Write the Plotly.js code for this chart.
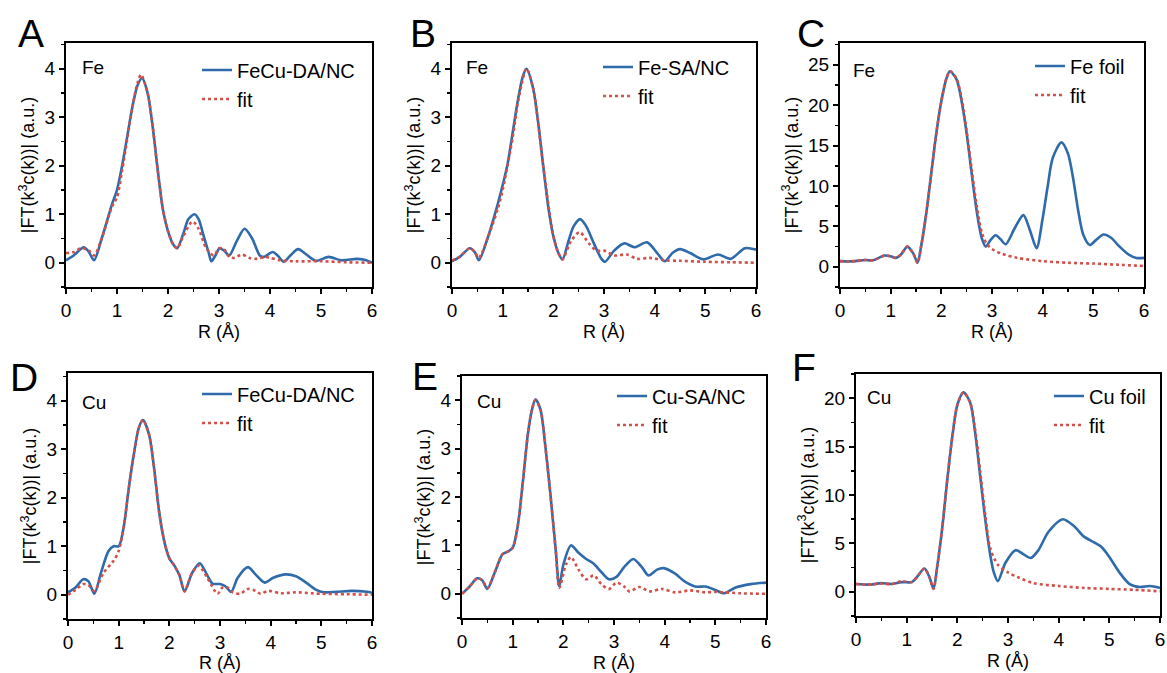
<!DOCTYPE html>
<html><head><meta charset="utf-8">
<script src="https://cdn.plot.ly/plotly-3.0.1.min.js"></script>
<style>html,body{margin:0;padding:0;background:#fff}#chart{width:1167px;height:673px}</style>
</head><body><div id="chart"></div>
<script>
// ---------- DATA ----------
// Panel A: Fe edge, FeCu-DA/NC
const rA_data = [0,0.15,0.35,0.45,0.55,0.7,0.9,1.0,1.1,1.2,1.3,1.4,1.49,1.6,1.7,1.8,1.9,2.0,2.1,2.18,2.3,2.4,2.52,2.6,2.7,2.8,2.85,2.93,3.01,3.1,3.2,3.35,3.5,3.65,3.8,3.88,4.05,4.15,4.27,4.4,4.55,4.7,4.9,5.15,5.4,5.7,5.85,6.0];
const vA_data = [0.05,0.15,0.32,0.22,0.05,0.5,1.2,1.5,2.0,2.6,3.2,3.65,3.81,3.5,2.8,1.9,1.1,0.65,0.38,0.3,0.6,0.9,1.0,0.9,0.55,0.2,0.03,0.15,0.3,0.25,0.15,0.45,0.7,0.5,0.15,0.12,0.22,0.15,0.02,0.15,0.28,0.18,0.04,0.12,0.05,0.08,0.06,0.0];
const rA_fit = [0,0.15,0.3,0.45,0.55,0.7,0.9,1.0,1.1,1.2,1.3,1.4,1.47,1.6,1.7,1.8,1.9,2.0,2.1,2.18,2.3,2.48,2.6,2.75,2.9,3.0,3.1,3.2,3.3,3.45,3.6,3.75,3.9,4.0,4.2,4.5,5.0,5.5,6.0];
const vA_fit = [0.2,0.22,0.3,0.25,0.15,0.5,1.15,1.35,1.9,2.55,3.2,3.7,3.88,3.5,2.8,1.9,1.1,0.65,0.38,0.3,0.55,0.85,0.7,0.3,0.15,0.3,0.28,0.12,0.1,0.17,0.1,0.08,0.12,0.1,0.05,0.03,0.03,0.01,0.0];

// Panel B: Fe edge, Fe-SA/NC
const rB_data = [0,0.15,0.35,0.45,0.53,0.7,0.9,1.0,1.1,1.2,1.3,1.4,1.47,1.6,1.7,1.8,1.9,2.0,2.1,2.18,2.3,2.4,2.53,2.65,2.8,2.95,3.02,3.2,3.4,3.6,3.85,4.05,4.2,4.35,4.5,4.7,4.96,5.25,5.5,5.78,6.0];
const vB_data = [0.03,0.12,0.3,0.22,0.05,0.5,1.2,1.6,2.05,2.7,3.35,3.85,4.0,3.6,2.9,2.0,1.15,0.55,0.2,0.07,0.45,0.75,0.9,0.75,0.4,0.08,0.02,0.25,0.4,0.32,0.42,0.2,0.03,0.2,0.28,0.2,0.07,0.17,0.08,0.3,0.27];
const rB_fit = [0,0.15,0.35,0.45,0.53,0.7,0.9,1.0,1.2,1.3,1.47,1.6,1.8,2.0,2.1,2.18,2.35,2.52,2.7,2.85,3.0,3.2,3.45,3.65,3.9,4.2,4.5,5.0,5.5,6.0];
const vB_fit = [0.05,0.12,0.3,0.22,0.1,0.5,1.1,1.5,2.6,3.3,4.0,3.6,2.0,0.55,0.2,0.07,0.45,0.63,0.4,0.25,0.25,0.15,0.17,0.08,0.1,0.05,0.04,0.02,0.01,0.0];

// Panel C: Fe edge, Fe foil
const rC_data = [0,0.15,0.3,0.5,0.65,0.88,1.0,1.1,1.2,1.33,1.45,1.53,1.6,1.7,1.8,1.9,2.0,2.1,2.17,2.3,2.4,2.5,2.6,2.7,2.8,2.88,2.97,3.07,3.17,3.27,3.45,3.62,3.75,3.88,4.0,4.1,4.2,4.37,4.5,4.6,4.7,4.8,4.93,5.05,5.2,5.35,5.5,5.7,5.85,6.0];
const vC_data = [0.7,0.65,0.7,0.85,0.8,1.4,1.3,1.1,1.5,2.5,1.6,0.5,2.5,6.5,11.5,16.5,20.5,23.3,24.2,23.2,20.5,16.5,11.5,6.8,3.5,2.5,3.3,3.9,3.4,2.8,4.8,6.4,4.5,2.3,6.0,10.0,13.5,15.4,14.0,11.0,7.0,4.0,2.7,3.3,4.0,3.6,2.6,1.5,1.1,1.1];
const rC_fit = [0,0.15,0.3,0.5,0.65,0.88,1.0,1.1,1.2,1.33,1.45,1.53,1.6,1.7,1.8,1.9,2.0,2.1,2.17,2.3,2.4,2.5,2.6,2.7,2.8,2.9,3.0,3.2,3.5,4.0,4.5,5.0,5.5,6.0];
const vC_fit = [0.7,0.65,0.7,0.85,0.8,1.4,1.3,1.1,1.5,2.5,1.6,0.5,2.5,6.5,11.5,16.5,20.5,23.3,24.2,23.3,20.8,16.8,12.0,7.5,4.2,2.8,2.2,1.6,1.1,0.7,0.5,0.4,0.25,0.1];

// Panel D: Cu edge, FeCu-DA/NC
const rD_data = [0,0.15,0.3,0.4,0.52,0.65,0.8,0.9,1.0,1.1,1.2,1.3,1.4,1.48,1.6,1.7,1.8,1.9,2.0,2.1,2.2,2.3,2.45,2.6,2.75,2.85,3.0,3.1,3.22,3.35,3.55,3.7,3.88,4.05,4.3,4.5,4.7,4.9,5.05,5.3,5.6,5.9,6.0];
const vD_data = [0.05,0.15,0.32,0.28,0.02,0.45,0.9,1.0,1.0,1.4,2.2,2.9,3.45,3.6,3.3,2.6,1.7,1.1,0.75,0.6,0.4,0.07,0.45,0.65,0.4,0.23,0.22,0.18,0.06,0.35,0.57,0.42,0.25,0.35,0.42,0.38,0.25,0.1,0.05,0.06,0.08,0.06,0.04];
const rD_fit = [0,0.15,0.3,0.4,0.52,0.7,0.9,1.0,1.1,1.2,1.3,1.4,1.48,1.6,1.7,1.8,1.9,2.0,2.1,2.2,2.3,2.45,2.58,2.75,2.95,3.05,3.15,3.25,3.4,3.55,3.7,3.8,3.95,4.2,4.5,4.8,5.0,5.5,6.0];
const vD_fit = [0.0,0.1,0.22,0.2,0.08,0.45,0.7,0.9,1.4,2.2,2.9,3.45,3.6,3.3,2.6,1.7,1.1,0.75,0.6,0.4,0.07,0.45,0.6,0.35,0.02,0.15,0.15,0.05,0.02,0.12,0.08,0.02,0.08,0.03,0.05,0.03,0.02,0.01,0.0];

// Panel E: Cu edge, Cu-SA/NC
const rE_data = [0,0.15,0.3,0.4,0.5,0.65,0.8,0.9,1.0,1.1,1.2,1.3,1.38,1.45,1.55,1.65,1.75,1.85,1.92,2.0,2.15,2.3,2.45,2.6,2.75,2.9,3.05,3.2,3.38,3.55,3.68,3.85,3.98,4.2,4.4,4.6,4.8,5.0,5.17,5.4,5.7,6.0];
const vE_data = [0.0,0.15,0.32,0.28,0.1,0.45,0.82,0.87,0.95,1.4,2.3,3.3,3.8,4.02,3.8,3.0,2.0,0.9,0.15,0.6,1.0,0.85,0.72,0.62,0.45,0.3,0.35,0.55,0.72,0.55,0.38,0.5,0.53,0.42,0.25,0.15,0.15,0.08,0.01,0.13,0.2,0.23];
const rE_fit = [0,0.15,0.3,0.4,0.5,0.65,0.8,0.9,1.0,1.1,1.2,1.3,1.38,1.45,1.55,1.65,1.75,1.85,1.92,2.05,2.15,2.3,2.45,2.6,2.75,2.9,3.05,3.2,3.3,3.5,3.7,3.95,4.2,4.5,4.8,5.0,5.5,6.0];
const vE_fit = [0.0,0.15,0.32,0.28,0.12,0.45,0.82,0.87,0.95,1.4,2.3,3.3,3.8,4.0,3.8,3.0,2.0,0.9,0.12,0.6,0.76,0.5,0.3,0.38,0.2,0.1,0.23,0.15,0.05,0.14,0.05,0.1,0.03,0.07,0.03,0.04,0.01,0.0];

// Panel F: Cu edge, Cu foil
const rF_data = [0,0.15,0.3,0.5,0.7,0.9,1.1,1.2,1.35,1.45,1.53,1.6,1.7,1.8,1.9,2.0,2.12,2.25,2.35,2.45,2.55,2.65,2.72,2.8,2.95,3.15,3.3,3.45,3.6,3.8,4.08,4.3,4.5,4.7,4.85,5.0,5.2,5.4,5.6,5.8,6.0];
const vF_data = [0.8,0.75,0.75,0.9,0.8,1.0,1.0,1.5,2.4,1.5,0.3,2.5,6.5,11.5,16.0,19.3,20.6,19.6,16.5,12.0,7.5,3.8,2.0,1.1,3.0,4.3,3.9,3.5,4.3,6.2,7.5,6.8,5.7,5.1,4.6,3.6,2.0,0.8,0.5,0.6,0.4];
const rF_fit = [0,0.15,0.3,0.5,0.7,0.9,1.1,1.2,1.35,1.45,1.53,1.6,1.7,1.8,1.9,2.0,2.12,2.25,2.35,2.45,2.55,2.65,2.8,3.0,3.2,3.5,4.0,4.5,5.0,5.5,6.0];
const vF_fit = [0.8,0.75,0.75,0.85,0.8,1.1,1.0,1.5,2.4,1.5,0.3,2.5,6.5,11.5,16.0,19.3,20.6,19.6,16.8,12.5,8.0,4.5,2.8,2.0,1.5,0.9,0.6,0.4,0.3,0.2,0.05];

const panelLetters = ['A','B','C','D','E','F'];
const edgeLabels = ['Fe','Fe','Fe','Cu','Cu','Cu'];
const sampleNames = ['FeCu-DA/NC','Fe-SA/NC','Fe foil','FeCu-DA/NC','Cu-SA/NC','Cu foil'];
const fitName = 'fit';
const xTitle = 'R (Å)';
const yTitle = '|FT(k<sup>3</sup>c(k))| (a.u.)';
const seriesR = [rA_data,rB_data,rC_data,rD_data,rE_data,rF_data];
const seriesV = [vA_data,vB_data,vC_data,vD_data,vE_data,vF_data];
const fitR = [rA_fit,rB_fit,rC_fit,rD_fit,rE_fit,rF_fit];
const fitV = [vA_fit,vB_fit,vC_fit,vD_fit,vE_fit,vF_fit];

// ---------- LAYOUT / STYLE ----------
const W = 1167, H = 673;
const BLUE = '#2f6aab', RED = '#d2504a';
const FONT = 'Arial, "Liberation Sans", sans-serif';
const px = x => x / W, py = y => 1 - y / H;

// plot box [left, top, right, bottom] in px, y range, y tick step, y minor step
const boxes = [
  {b:[66,43,372,287],   yr:[-0.5,4.53], dt:1, mn:0.5, let:[16,33],  el:[80,68],   lg:[237,63]},
  {b:[452,43,756,287],  yr:[-0.5,4.53], dt:1, mn:0.5, let:[408,33], el:[464,68],  lg:[638,60]},
  {b:[840,43,1144,287], yr:[-2.5,27.7], dt:5, mn:2.5, let:[795,33], el:[851,71],  lg:[1070,59]},
  {b:[68,373,372,619],  yr:[-0.5,4.57], dt:1, mn:0.5, let:[8,377],  el:[80,402],  lg:[237,387]},
  {b:[462,376,766,618], yr:[-0.5,4.5],  dt:1, mn:0.5, let:[410,376],el:[475,401], lg:[652,389]},
  {b:[856,374,1160,616],yr:[-2.5,22.5], dt:5, mn:2.5, let:[790,368],el:[865,397], lg:[1089,389]}
];

const traces = [];
const layout = {
  width: W, height: H, margin:{l:0,r:0,t:0,b:0},
  paper_bgcolor:'#fff', plot_bgcolor:'#fff',
  font:{family:FONT, color:'#000', size:18},
  annotations: [], showlegend: true
};

boxes.forEach((bx, i) => {
  const n = i + 1;
  const xa = n === 1 ? 'xaxis' : 'xaxis' + n;
  const ya = n === 1 ? 'yaxis' : 'yaxis' + n;
  const xr = n === 1 ? 'x' : 'x' + n;
  const yrf = n === 1 ? 'y' : 'y' + n;
  const lgName = n === 1 ? 'legend' : 'legend' + n;
  const [l, t, r, b] = bx.b;
  const common = {
    ticks:'outside', ticklen:5, tickwidth:2, tickcolor:'#000',
    showline:true, linewidth:2, linecolor:'#000', mirror:true,
    showgrid:false, zeroline:false,
    tickfont:{size:19, family:FONT, color:'#000'}
  };
  layout[xa] = Object.assign({}, common, {
    domain:[px(l), px(r)], range:[0,6], anchor:yrf, tick0:0, dtick:1,
    minor:{dtick:0.5, ticks:'outside', ticklen:3, tickwidth:1.5, tickcolor:'#000'},
    title:{text:xTitle, font:{size:18, family:FONT, color:'#000'}, standoff:6}
  });
  layout[ya] = Object.assign({}, common, {
    domain:[py(b), py(t)], range:bx.yr, anchor:xr, tick0:0, dtick:bx.dt,
    minor:{dtick:bx.mn, ticks:'outside', ticklen:3, tickwidth:1.5, tickcolor:'#000'},
    title:{text:yTitle, font:{size:18, family:FONT, color:'#000'}, standoff:5}
  });
  layout[lgName] = {
    x: px(bx.lg[0] - 40), y: py(bx.lg[1] - 12.5), xanchor:'left', yanchor:'top',
    bgcolor:'rgba(0,0,0,0)', borderwidth:0, font:{size:20, family:FONT, color:'#000'},
    tracegroupgap:0
  };
  traces.push({
    x: seriesR[i], y: seriesV[i], xaxis:xr, yaxis:yrf, type:'scatter', mode:'lines',
    name: sampleNames[i], legend: lgName,
    line:{color:BLUE, width:2.6, shape:'spline', smoothing:0.8}
  });
  traces.push({
    x: fitR[i], y: fitV[i], xaxis:xr, yaxis:yrf, type:'scatter', mode:'lines',
    name: fitName, legend: lgName,
    line:{color:RED, width:2.6, dash:'dot', shape:'spline', smoothing:0.8}
  });
  layout.annotations.push({
    text: panelLetters[i], xref:'paper', yref:'paper', x:px(bx.let[0]), y:py(bx.let[1]),
    xanchor:'left', yanchor:'middle', showarrow:false, font:{size:39, family:FONT, color:'#000'}
  });
  layout.annotations.push({
    text: edgeLabels[i], xref:'paper', yref:'paper', x:px(bx.el[0]), y:py(bx.el[1]),
    xanchor:'left', yanchor:'middle', showarrow:false, font:{size:19, family:FONT, color:'#000'}
  });
});

Plotly.newPlot('chart', traces, layout, {displayModeBar:false, staticPlot:true});
</script>
</body></html>
